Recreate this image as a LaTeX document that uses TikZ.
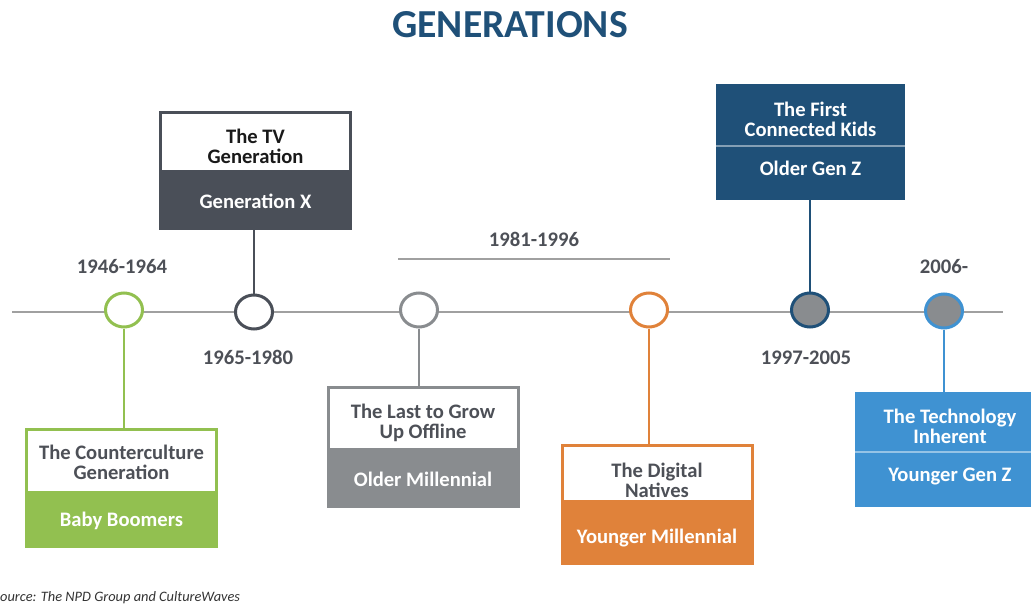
\documentclass[tikz,border=0pt]{standalone}
\usepackage{fontspec}
\setmainfont{Carlito}
\usetikzlibrary{positioning,shapes.geometric}

\definecolor{boomgreen}{RGB}{146,192,80}
\definecolor{genxgrey}{RGB}{74,79,88}
\definecolor{millgrey}{RGB}{137,140,143}
\definecolor{millorange}{RGB}{224,130,58}
\definecolor{genzdark}{RGB}{31,80,120}
\definecolor{genzlight}{RGB}{63,146,210}
\definecolor{linegrey}{RGB}{160,160,160}
\definecolor{labelgrey}{RGB}{77,80,87}

\newcommand{\boxfont}{\fontsize{20.6}{20}\selectfont\bfseries}
\newcommand{\yearfont}{\fontsize{20.7}{22}\selectfont\bfseries}

\tikzset{
  yeardot/.style={ellipse, draw=#1, line width=3pt, fill=white,
    minimum width=37pt, minimum height=34pt, inner sep=0pt},
  capbox/.style={draw=#1, line width=3pt, fill=white, minimum width=190pt,
    inner sep=0pt, align=center, font=\boxfont, text=labelgrey,
    text height=44pt},
  namebox/.style={draw=#1, fill=#1, line width=3pt, minimum width=190pt,
    inner sep=0pt, align=center, font=\boxfont, text=white},
  link/.style={draw=#1, line width=2.5pt},
  year/.style={anchor=base, font=\yearfont, text=labelgrey},
  timeline/.style={draw=linegrey, line width=2pt},
  divider/.style={draw=#1, line width=1.5pt}
}

\begin{document}
\begin{tikzpicture}[x=1pt, y=-1pt]
    \useasboundingbox (0,0) rectangle (1031,604);

    \node[anchor=base, font=\fontsize{39.7}{40}\selectfont\bfseries, text=genzdark]
        (title) at (510,38) {GENERATIONS};

    % the time axis
    \coordinate (tlstart) at (12,312);
    \coordinate (tlend) at (1003,312);
    \draw[timeline] (tlstart) -- (tlend);

    \node[yeardot=boomgreen] (bbdot) at (124,310) {};
    \node[yeardot=genxgrey] (gxdot) at (254,312) {};
    \node[yeardot=millgrey] (omdot) at (419,310) {};
    \node[yeardot=millorange] (ymdot) at (649,310) {};
    \node[yeardot=genzdark, fill=millgrey] (ogzdot) at (810,310) {};
    \node[yeardot=genzlight, fill=millgrey] (ygzdot) at (944,311) {};

    % years
    \node[year] (bbyears) at (122,273) {1946-1964};
    \node[year] (gxyears) at (248,364) {1965-1980};
    \node[year] (myears) at (534,247) {1981-1996};
    \node[year] (ogzyears) at (806,364) {1997-2005};
    \node[year] (ygzyears) at (944,273) {2006-};

    \coordinate (spanleft) at (398,259);
    \coordinate (spanright) at (670,259);
    \draw[timeline] (spanleft) -- (spanright);

    % Baby Boomers
    \node[capbox=boomgreen, minimum height=63pt, text height=37pt] (bbcap) at (121.5,461)
        {The Counterculture\\Generation};
    \node[namebox=boomgreen, minimum height=51pt, below=0pt of bbcap] (bbname)
        {Baby Boomers};

    % Generation X
    \node[capbox=genxgrey, minimum height=59pt, text=black!90] (gxcap) at (255.5,142)
        {The TV\\Generation};
    \node[namebox=genxgrey, minimum height=54pt, below=0pt of gxcap] (gxname)
        {Generation X};

    % Older Millennial
    \node[capbox=millgrey, minimum height=62pt] (omcap) at (423,418.5)
        {The Last to Grow\\Up Offline};
    \node[namebox=millgrey, minimum height=54pt, below=0pt of omcap] (omname)
        {Older Millennial};

    % Younger Millennial
    \node[capbox=millorange, minimum height=56pt, text height=48pt] (ymcap) at (657,473.5)
        {The Digital\\Natives};
    \node[namebox=millorange, minimum height=59pt, text height=23pt,
        below=0pt of ymcap] (ymname) {Younger Millennial};

    % Older Gen Z
    \node[capbox=genzdark, fill=genzdark, text=white, minimum width=186pt,
        minimum height=59pt] (ogzcap) at (810.5,115)
        {The First\\Connected Kids};
    \node[namebox=genzdark, minimum width=186pt, minimum height=51pt,
        text depth=10pt, below=0pt of ogzcap] (ogzname) {Older Gen Z};
    \draw[divider=genzdark!55!white] (ogzcap.south west) -- (ogzcap.south east);

    % Younger Gen Z
    \node[capbox=genzlight, fill=genzlight, text=white, minimum width=187pt,
        minimum height=57pt] (ygzcap) at (950,422)
        {The Technology\\Inherent};
    \node[namebox=genzlight, minimum width=187pt, minimum height=52pt,
        text depth=10pt, below=0pt of ygzcap] (ygzname) {Younger Gen Z};
    \draw[divider=genzlight!55!white] (ygzcap.south west) -- (ygzcap.south east);

    % stems
    \draw[link=boomgreen] (bbdot) -- (bbdot |- bbcap.north);
    \draw[link=genxgrey] (gxdot) -- (gxdot |- gxname.south);
    \draw[link=millgrey] (omdot) -- (omdot |- omcap.north);
    \draw[link=millorange] (ymdot) -- (ymdot |- ymcap.north);
    \draw[link=genzdark] (ogzdot) -- (ogzdot |- ogzname.south);
    \draw[link=genzlight] (ygzdot) -- (ygzdot |- ygzcap.north);

    \node[anchor=base west, inner sep=0pt, font=\fontsize{14.4}{16}\selectfont\itshape,
        text=black!80] (source) at (0,601) {ource: The NPD Group and CultureWaves};
\end{tikzpicture}
\end{document}
